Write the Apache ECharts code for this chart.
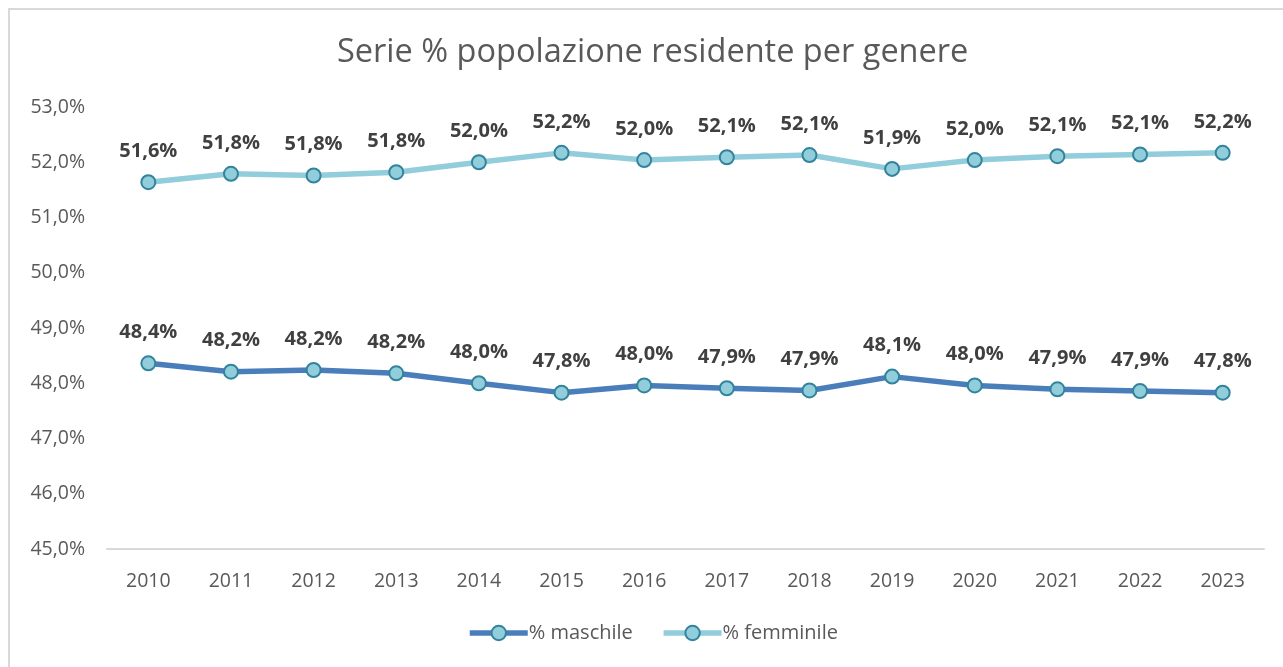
<!DOCTYPE html>
<html>
<head>
<meta charset="utf-8">
<script src="https://cdn.jsdelivr.net/npm/echarts@6/dist/echarts.min.js"></script>
<style>
  html, body { margin: 0; padding: 0; background: #fff; }
  #chart { width: 1283px; height: 667px; }
</style>
</head>
<body>
<div id="chart"></div>
<script>
/* ---------- dati ---------- */
const anni = ["2010", "2011", "2012", "2013", "2014", "2015", "2016",
              "2017", "2018", "2019", "2020", "2021", "2022", "2023"];
const maschile  = [48.36, 48.21, 48.24, 48.18, 48.00, 47.83, 47.96,
                   47.91, 47.87, 48.12, 47.96, 47.89, 47.86, 47.83];
const femminile = [51.64, 51.79, 51.76, 51.82, 52.00, 52.17, 52.04,
                   52.09, 52.13, 51.88, 52.04, 52.11, 52.14, 52.17];
const yTicks = { min: 45, max: 53, step: 1 };

/* ---------- stile ---------- */
const FONT = "'Open Sans', sans-serif";
const TXT  = "#595959";
const fmt  = (v) => v.toFixed(1).replace(".", ",") + "%";

function serie(name, data, color) {
    return {
        name, type: "line", data,
        symbol: "circle", symbolSize: 14,
        lineStyle: { color, width: 5.5 },
        itemStyle: { color: "#92cddc", borderColor: "#31849b", borderWidth: 2 },
        label: {
            show: true, position: "top", distance: 13,
            formatter: (p) => fmt(p.value),
            fontFamily: FONT, fontWeight: "bold", fontSize: 20, color: "#404040",
        },
        emphasis: { disabled: true },
        z: 3,
    };
}

const chart = echarts.init(document.getElementById("chart"), null, { renderer: "canvas" });
chart.setOption({
    animation: false,
    backgroundColor: "#fff",
    title: {
        text: "Serie % popolazione residente per genere",
        left: 332, top: 31,
        textStyle: { fontFamily: FONT, fontWeight: "normal", fontSize: 32.5, color: TXT },
    },
    grid: { left: 107, right: 19, top: 107, bottom: 118 },
    legend: {
        bottom: 19, left: 462,
        itemWidth: 58, itemHeight: 18, itemGap: 28,
        lineStyle: { width: 5.5 },
        textStyle: { fontFamily: FONT, fontSize: 20, color: TXT, padding: [0, 0, 0, -4] },
        data: ["% maschile", "% femminile"],
    },
    xAxis: {
        type: "category", data: anni, boundaryGap: true,
        axisLine: { lineStyle: { color: "#d9d9d9", width: 2 } },
        axisTick: { show: false },
        axisLabel: { fontFamily: FONT, fontSize: 19.5, color: TXT, margin: 22 },
    },
    yAxis: {
        type: "value", min: yTicks.min, max: yTicks.max, interval: yTicks.step,
        axisLine: { show: false }, axisTick: { show: false },
        splitLine: { show: false },
        axisLabel: { fontFamily: FONT, fontSize: 19.5, color: TXT, margin: 22, formatter: fmt },
    },
    series: [
        serie("% maschile", maschile, "#4a7ebb"),
        serie("% femminile", femminile, "#92cddc"),
    ],
    graphic: [{
        type: "polyline", silent: true,
        shape: { points: [[9, 700], [9, 9], [1300, 9]] },
        style: { stroke: "#d9d9d9", lineWidth: 2, fill: null },
    }],
});
</script>
</body>
</html>
